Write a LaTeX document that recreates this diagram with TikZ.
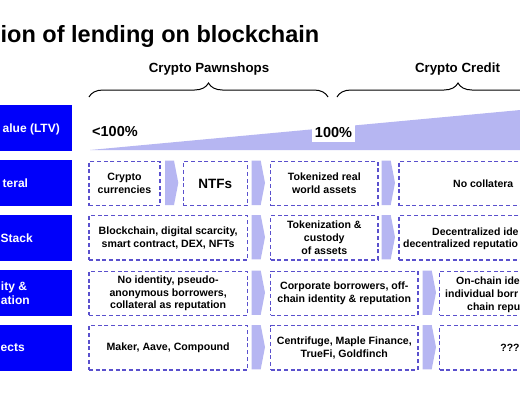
\documentclass[tikz,border=0pt]{standalone}
\usepackage{fontspec}
\setmainfont{Liberation Sans}
\usetikzlibrary{decorations.pathreplacing}
\definecolor{lblue}{RGB}{0,0,250}
\definecolor{dashcol}{RGB}{90,80,205}
\definecolor{lav}{RGB}{182,182,242}
\tikzset{
  lab/.style={fill=lblue, draw=none, inner sep=0pt, minimum width=90pt, minimum height=45.5pt, anchor=north east},
  labtxt/.style={text=white, font=\fontsize{12}{14}\selectfont\bfseries, inner sep=0pt, anchor=base west},
  dbox/.style={draw=dashcol, line width=1.3pt, dash pattern=on 4pt off 2.7pt, inner sep=0pt, minimum height=44.3pt, anchor=north west},
  btxt/.style={font=\fontsize{10.6}{12.9}\selectfont\bfseries, align=center},
  ctxt/.style={font=\fontsize{10.5}{12.9}\selectfont\bfseries, inner sep=0pt, anchor=base west},
  chev/.style={fill=lav},
  brc/.style={draw=black, line width=1pt, decorate, decoration={brace, amplitude=14pt}},
  hdr/.style={font=\fontsize{13.3}{16}\selectfont\bfseries, inner sep=0pt, anchor=base},
  pct/.style={font=\fontsize{14.5}{17}\selectfont\bfseries, inner sep=0pt},
}
\newcommand\mychev[2]{\fill[chev] (#1,#2) -- ++(9,0) -- ++(4.3,22.15) -- ++(-4.3,22.15) -- ++(-9,0) -- cycle;}
\begin{document}
\begin{tikzpicture}[x=1pt,y=-1pt]
\useasboundingbox (0,0) rectangle (520,400);
\clip (0,0) rectangle (520,400);
\fill[white] (0,0) rectangle (520,400);

% title
\node[anchor=base west, font=\fontsize{23.5}{28}\selectfont\bfseries, inner sep=0pt] (title) at (0.5,42) {ion of lending on blockchain};

% headers and braces
\node[hdr] (hp) at (209,72.5) {Crypto Pawnshops};
\node[hdr] (hc) at (457.5,72.5) {Crypto Credit};
\coordinate (bp1) at (89,97);
\coordinate (bp2) at (328,97);
\coordinate (bc1) at (337,97);
\coordinate (bc2) at (579,97);
\draw[brc] (bp1) -- (bp2);
\draw[brc] (bc1) -- (bc2);

% left labels
\node[lab] (l1) at (72,105) {};
\node[lab] (l2) at (72,160) {};
\node[lab] (l3) at (72,215) {};
\node[lab] (l4) at (72,270) {};
\node[lab] (l5) at (72,325) {};
\node[labtxt] (t1) at (2.5,132.6) {alue (LTV)};
\node[labtxt] (t2) at (2.5,187.6) {teral};
\node[labtxt] (t3) at (0.5,242) {Stack};
\node[labtxt] (t4a) at (0.8,290.8) {ity \&};
\node[labtxt] (t4b) at (0.8,304.6) {ation};
\node[labtxt] (t5) at (0.5,351.8) {ects};

% LTV wedge
\fill[lav] (90,150) -- (600,102.6) -- (600,150) -- cycle;
\node[pct, anchor=base west] (p1) at (92,136.2) {<100\%};
\node[pct, fill=white, minimum width=43pt, minimum height=19pt] (p2) at (333.5,132.5) {100\%};

% collateral row
\node[dbox, btxt, minimum width=71pt] (c1) at (88.3,160.7) {Crypto\\currencies};
\mychev{165}{160.7}
\node[dbox, btxt, minimum width=64pt, font=\fontsize{13.5}{15}\selectfont\bfseries] (c2) at (182.7,160.7) {NTFs};
\mychev{251.7}{160.7}
\node[dbox, btxt, minimum width=107.3pt] (c3) at (270,160.7) {Tokenized real\\world assets};
\mychev{381.7}{160.7}
\node[dbox, minimum width=201.7pt] (c4) at (398.3,160.7) {};
\node[ctxt] (c4t) at (453,187.3) {No collatera};

% stack row
\node[dbox, btxt, minimum width=158.4pt] (s1) at (88.3,215) {Blockchain, digital scarcity,\\smart contract, DEX, NFTs};
\mychev{251.7}{215}
\node[dbox, btxt, minimum width=107.3pt] (s2) at (270,215) {Tokenization \&\\custody\\of assets};
\mychev{381.7}{215}
\node[dbox, minimum width=201.7pt] (s3) at (398.3,215) {};
\node[ctxt] (s3a) at (432,235) {Decentralized ide};
\node[ctxt] (s3b) at (403,247.2) {decentralized reputatio};

% identity row
\node[dbox, btxt, minimum width=158.4pt] (i1) at (88.3,270.5) {No identity, pseudo-\\anonymous borrowers,\\collateral as reputation};
\mychev{251.7}{270.5}
\node[dbox, btxt, minimum width=147.3pt] (i2) at (270,270.5) {Corporate borrowers, off-\\chain identity \& reputation};
\mychev{422.7}{270.5}
\node[dbox, minimum width=161pt] (i3) at (439,270.5) {};
\node[ctxt] (i3a) at (456,284) {On-chain ide};
\node[ctxt] (i3b) at (445,297.3) {individual borr};
\node[ctxt] (i3c) at (467,310) {chain repu};

% projects row
\node[dbox, btxt, minimum width=158.4pt] (r1) at (88.3,325) {Maker, Aave, Compound};
\mychev{251.7}{325}
\node[dbox, btxt, minimum width=147.3pt] (r2) at (270,325) {Centrifuge, Maple Finance,\\TrueFi, Goldfinch};
\mychev{422.7}{325}
\node[dbox, minimum width=161pt] (r3) at (439,325) {};
\node[ctxt, anchor=base] (r3t) at (510,351) {???};
\end{tikzpicture}
\end{document}
